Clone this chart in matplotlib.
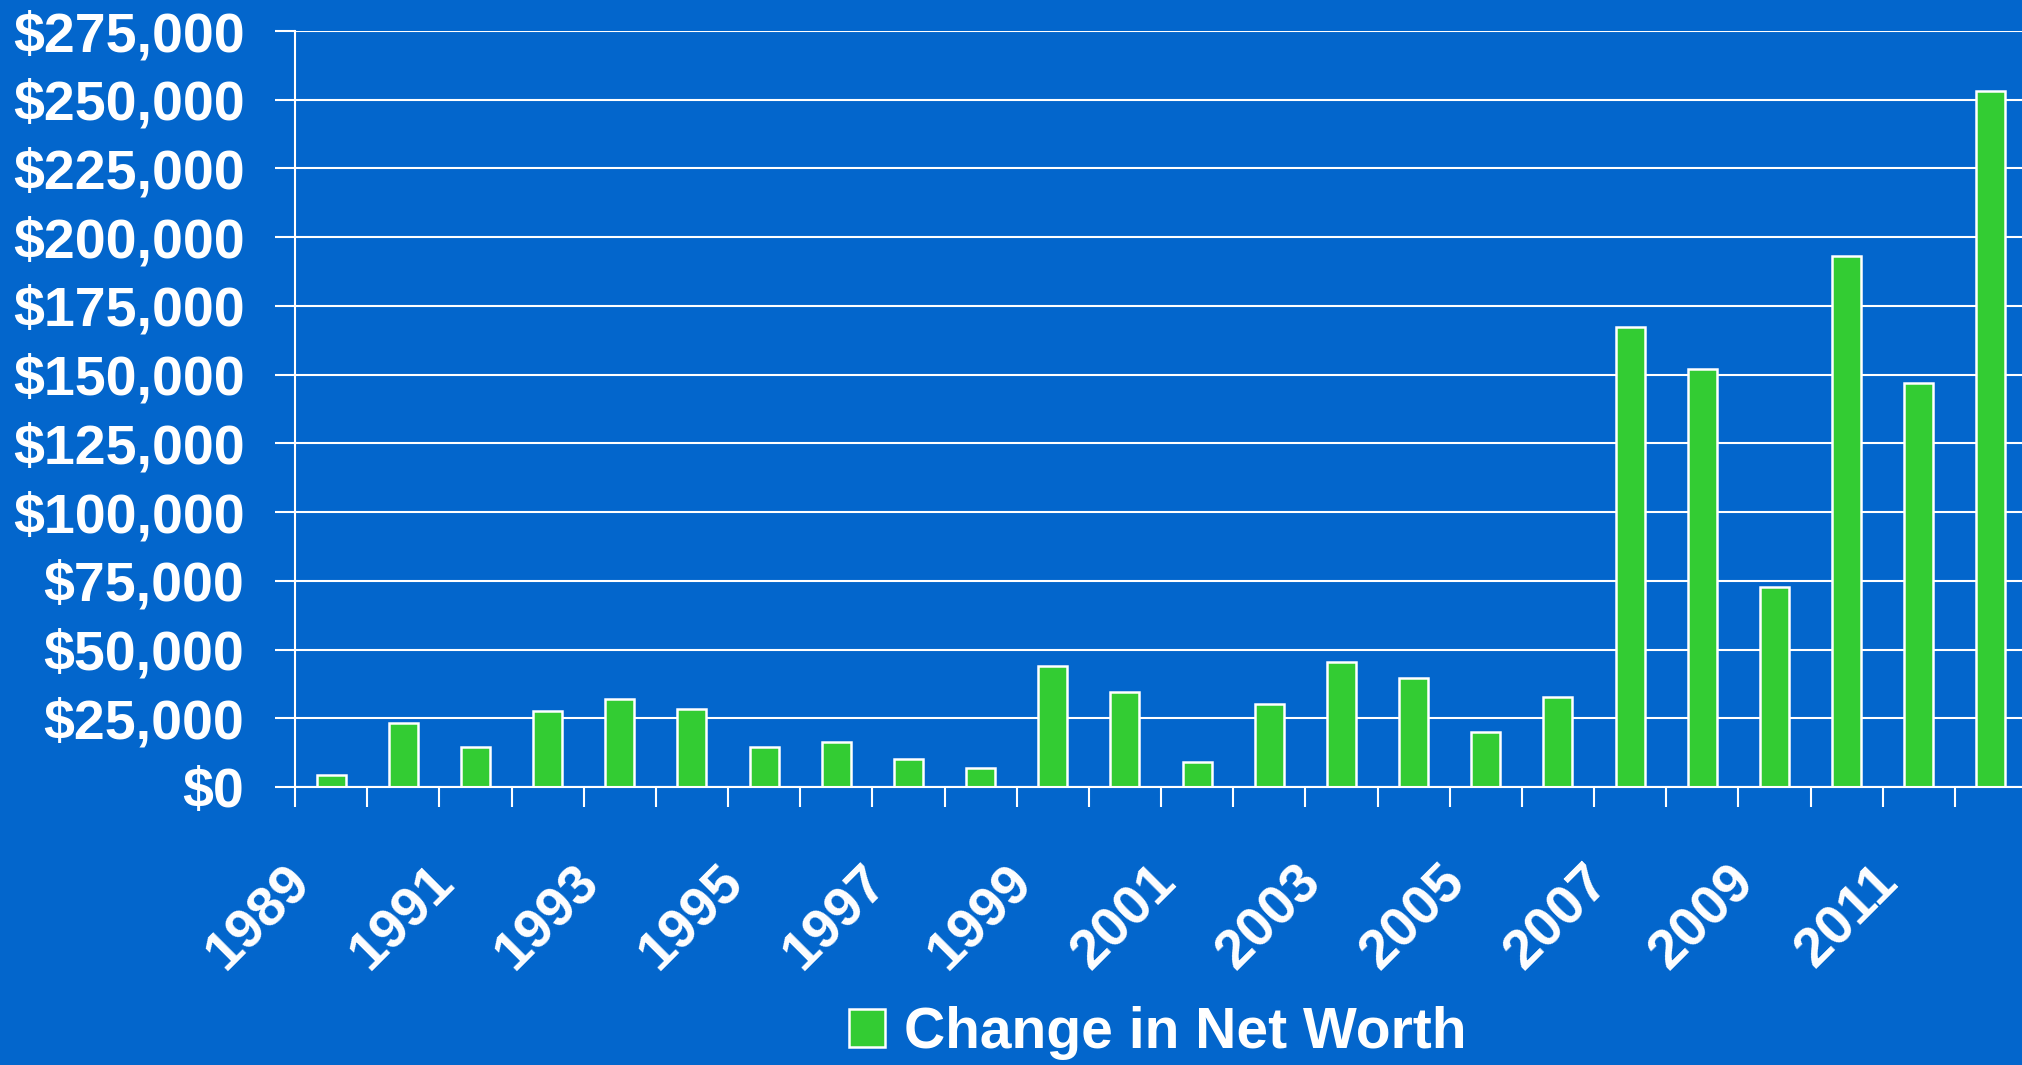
import matplotlib
matplotlib.use("Agg")
import matplotlib.pyplot as plt
from matplotlib.transforms import ScaledTranslation
from matplotlib.ticker import FuncFormatter

years = [str(y) for y in range(1989, 2013)]
change_in_net_worth = [4300, 23300, 14600, 27700, 32000, 28500, 14600, 16300,
                       10200, 6800, 43900, 34400, 9200, 30100, 45600, 39800,
                       19900, 32900, 167500, 152000, 72600, 193300, 146900, 253300]
y_ticks = list(range(0, 275001, 25000))
series_name = "Change in Net Worth"

BG = "#0366CC"
GREEN = "#33CC33"
W = 2022
H = 1065
DPI = 100

plt.rcParams['font.family'] = ['Liberation Sans', 'DejaVu Sans']
plt.rcParams['font.weight'] = 'bold'

fig = plt.figure(figsize=(W / DPI, H / DPI), dpi=DPI, facecolor=BG)
left = 295 / W
bottom = 1 - 787 / H
top = 1 - 31 / H
right = 2027 / W
ax = fig.add_axes([left, bottom, right - left, top - bottom])
ax.set_facecolor(BG)

x = list(range(len(years)))
bars = ax.bar(x, change_in_net_worth, width=0.4, color=GREEN, edgecolor="white",
              linewidth=1.8, label=series_name, zorder=3)

ax.set_xlim(-0.5, len(years) - 0.5)
ax.set_ylim(0, 275000)
ax.set_yticks(y_ticks)
ax.yaxis.set_major_formatter(FuncFormatter(lambda v, p: "${:,.0f}".format(v)))
ax.yaxis.grid(True, color="white", linewidth=1.5, zorder=1)
ax.set_axisbelow(True)

for s in ["top", "right"]:
    ax.spines[s].set_visible(False)
for s in ["left", "bottom"]:
    ax.spines[s].set_color("white")
    ax.spines[s].set_linewidth(1.5)
    ax.spines[s].set_zorder(4)

ax.tick_params(axis="y", colors="white", length=14.4, width=1.5, pad=22,
               labelsize=40, direction="out")

# category boundary ticks (minor) and labels every other year (major)
ax.set_xticks([i - 0.5 for i in range(len(years) + 1)], minor=True)
ax.set_xticks(x[::2])
ax.set_xticklabels(years[::2])
ax.tick_params(axis="x", which="minor", colors="white", length=14.4, width=1.5,
               direction="out")
ax.tick_params(axis="x", which="major", length=0, pad=50, labelsize=40,
               labelcolor="white")
off = ScaledTranslation(-47 / DPI, 0, fig.dpi_scale_trans)
for lab in ax.get_xticklabels():
    lab.set_rotation(45)
    lab.set_rotation_mode("anchor")
    lab.set_ha("right")
    lab.set_va("top")
    lab.set_transform(lab.get_transform() + off)
for lab in ax.get_yticklabels():
    lab.set_fontweight("bold")

leg = fig.legend(handles=[bars], labels=[series_name], loc="center",
                 bbox_to_anchor=(1158 / W, 1 - 1033 / H), frameon=False,
                 fontsize=41, handlelength=0.63, handleheight=0.63,
                 handletextpad=0.33, borderaxespad=0, borderpad=0)
for t in leg.get_texts():
    t.set_color("white")
    t.set_fontweight("bold")

fig.savefig("out.png", dpi=DPI, facecolor=BG)
